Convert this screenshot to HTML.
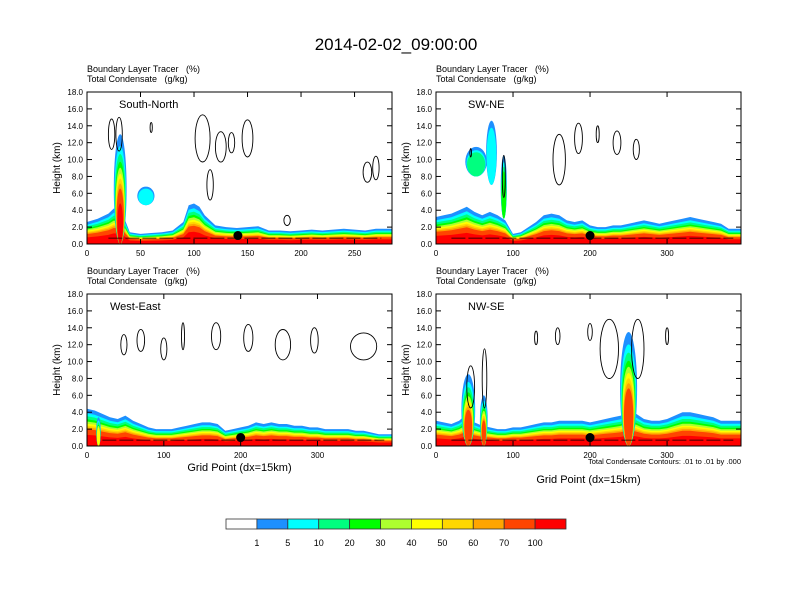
<!DOCTYPE html>
<html><head><meta charset="utf-8"><style>
body{margin:0;background:#fff;}
svg{display:block;font-family:"Liberation Sans",sans-serif;}
text{white-space:pre;}
</style></head><body>
<svg id="chart" width="792" height="612" viewBox="0 0 792 612" xmlns="http://www.w3.org/2000/svg">
<text x="396" y="50" font-size="17" text-anchor="middle">2014-02-02_09:00:00</text>
<g id="panels"></g>
<g id="colorbar"></g>
</svg>
<script>
// ---- data ----
const levelLabels = ["1","5","10","20","30","40","50","60","70","100"];
const levelColors = ["#ffffff","#1e90ff","#00ffff","#00ff7f","#00ff00","#adff2f","#ffff00","#ffd700","#ffa500","#ff4500","#ff0000"];
const yTicks = [0,2,4,6,8,10,12,14,16,18];
const panelNames = ["South-North","SW-NE","West-East","NW-SE"];
const xMaxes = [285,396,397,396];
const xTickSets = [[0,50,100,150,200,250],[0,100,200,300],[0,100,200,300],[0,100,200,300]];
// boundary layer top (km) at grid points
const blX = [
 [0,10,20,25,32,40,50,60,70,80,90,95,100,105,110,120,130,140,150,160,170,180,190,200,210,220,230,240,250,260,270,285],
 [0,10,20,30,40,50,60,70,80,90,100,110,120,130,140,150,160,170,180,190,200,210,220,230,240,250,260,270,280,290,300,310,320,330,340,350,360,370,380,396],
 [0,10,20,30,40,50,60,70,80,90,100,110,120,130,140,150,160,170,180,190,200,210,220,230,240,250,260,270,280,290,300,310,320,330,340,350,360,370,380,397],
 [0,10,20,30,40,50,60,70,80,90,100,110,120,130,140,150,160,170,180,190,200,210,220,230,240,250,260,270,280,290,300,310,320,330,340,350,360,370,380,396]
];
const blTop = [
 [2.6,3.0,3.6,4.2,4.0,1.4,1.2,1.3,1.4,1.6,2.6,4.6,4.8,4.4,3.4,2.2,2.0,1.9,2.0,2.1,1.6,1.6,1.5,1.6,1.7,1.6,1.7,1.8,1.7,1.6,1.8,1.8],
 [3.2,3.4,3.6,4.0,4.4,3.8,3.4,3.8,3.4,2.8,1.2,1.4,2.0,2.6,3.4,3.6,3.4,2.8,2.6,2.8,2.2,2.0,2.0,2.2,2.2,2.4,2.6,2.8,2.6,2.4,2.6,2.8,3.0,3.2,3.0,2.8,2.6,2.4,1.8,1.8],
 [4.4,4.2,3.8,3.4,3.2,3.6,3.0,2.6,2.2,2.0,2.0,2.0,2.2,2.4,2.6,2.8,2.8,2.6,1.8,2.0,2.2,2.4,2.8,2.6,2.8,2.6,2.6,2.4,2.4,2.2,2.2,2.0,2.0,2.0,2.0,1.8,1.8,1.6,1.4,1.4],
 [3.0,2.8,2.6,3.0,3.8,2.8,2.4,2.2,2.0,2.0,2.2,2.2,2.4,2.6,2.8,2.8,3.0,3.0,3.0,3.0,2.8,3.0,3.2,3.4,3.6,4.2,3.8,3.2,3.0,3.0,3.2,3.6,4.0,4.0,3.8,3.6,3.4,3.0,3.0,3.0]
];
// convective plumes: [center x, half width, top km, base km, number of colour levels]
const plumes = [
 [[31,6,13,0,10],[55,8,6.8,4.6,2]],
 [[88,4,10.5,3,4],[52,14,11.5,8,3],[72,7,14.6,7,2]],
 [[15,3,3.4,0,6]],
 [[42,9,8.5,0,9],[62,5,6,0,9],[250,11,13.5,0,9]]
];
// cloud contours: [x, y km, rx grid, ry km]
const contours = [
 [[23,13,3,1.8],[30,13,3,2],[60,13.8,1,0.6],[108,12.5,7,2.8],[125,11.5,5,1.8],[135,12,3,1.2],[150,12.5,5,2.2],[115,7,3,1.8],[187,2.8,3,0.6],[262,8.5,4,1.2],[270,9,3,1.4]],
 [[160,10,8,3],[185,12.5,5,1.8],[210,13,2,1.0],[235,12,5,1.4],[260,11.2,4,1.2],[88,8,2,2.5],[45,10.8,1,0.5]],
 [[48,12,4,1.2],[70,12.5,5,1.3],[100,11.5,4,1.3],[125,13,2,1.6],[168,13,6,1.6],[210,12.8,6,1.6],[255,12,10,1.8],[296,12.5,5,1.5],[360,11.8,17,1.6]],
 [[45,7,5,2.5],[63,8,3,3.5],[130,12.8,2,0.8],[158,13,3,1],[200,13.5,3,1],[225,11.5,12,3.5],[262,11.5,8,3.5],[300,13,2,1]]
];
const markerX = [141,200,200,200];

// ---- layout ----
const boxes = [[87,92],[436,92],[87,294],[436,294]];
const W=305, H=152, yMax=18;
const NS="http://www.w3.org/2000/svg";
function mk(tag, attrs, parent){const e=document.createElementNS(NS,tag);for(const k in attrs)e.setAttribute(k,attrs[k]);parent.appendChild(e);return e;}
const panelsG=document.getElementById('panels');
const fracs=[1.0,0.88,0.8,0.72,0.66,0.6,0.55,0.5,0.45,0.3];

panelNames.forEach((name,p)=>{
  const [bx,by]=boxes[p];
  const xs=v=>bx+v/xMaxes[p]*W;
  const ys=v=>by+H-v/yMax*H;
  const g=mk('g',{},panelsG);
  
  
  const clipId='clip'+p;
  const cp=mk('clipPath',{id:clipId},g); mk('rect',{x:bx,y:by,width:W,height:H},cp);
  const fill=mk('g',{'clip-path':'url(#'+clipId+')'},g);
  
  
  fracs.forEach((f,k)=>{
    let d='M'+xs(0)+','+ys(0);
    blX[p].forEach((x,i)=>{d+=' L'+xs(x).toFixed(1)+','+ys(blTop[p][i]*f).toFixed(1);});
    d+=' L'+xs(xMaxes[p])+','+ys(0)+' Z';
    const e=mk('path',{d:d,fill:levelColors[k+1]},fill);
    
    
  });
  plumes[p].forEach(pl=>{
    const [cx,hw,top,base,nl]=pl;
    fracs.slice(0,nl).forEach((f,k)=>{
      const t=base+(top-base)*(1-(1-f)*0.9);
      const w=hw*(1-(1-f)*0.8);
      const e=mk('ellipse',{cx:xs(cx).toFixed(1),cy:ys((base+t)/2).toFixed(1),rx:(w/xMaxes[p]*W).toFixed(1),ry:((t-base)/2/yMax*H).toFixed(1),fill:levelColors[k+1]},fill);
      
      
    });
  });
  contours[p].forEach(c=>{
    const e=mk('ellipse',{cx:xs(c[0]).toFixed(1),cy:ys(c[1]).toFixed(1),rx:(c[2]/xMaxes[p]*W).toFixed(1),ry:(c[3]/yMax*H).toFixed(1),fill:'none',stroke:'#000','stroke-width':0.9},fill);
    
    
  });
  const ll=mk('line',{x1:xs(20),x2:xs(xMaxes[p]-10),y1:ys(0.7),y2:ys(0.7),stroke:'#000','stroke-width':0.7,'stroke-dasharray':'14 3'},fill);
  
  
  const m=mk('circle',{cx:xs(markerX[p]),cy:ys(1.0),r:4.5,fill:'#000'},g);
  
  
  const fr=mk('rect',{x:bx,y:by,width:W,height:H,fill:'none',stroke:'#000','stroke-width':1},g);
  
  
  yTicks.forEach(t=>{
    const y=ys(t);
    mk('line',{x1:bx,x2:bx+5,y1:y,y2:y,stroke:'#000'},g);
    mk('line',{x1:bx+W,x2:bx+W-5,y1:y,y2:y,stroke:'#000'},g);
    const tx=mk('text',{x:bx-4,y:y+3,'font-size':8,'text-anchor':'end'},g);
    tx.textContent=t.toFixed(1);
    
    
  });
  xTickSets[p].forEach(t=>{
    const x=xs(t);
    mk('line',{x1:x,x2:x,y1:by+H,y2:by+H-5,stroke:'#000'},g);
    mk('line',{x1:x,x2:x,y1:by,y2:by+5,stroke:'#000'},g);
    const tx=mk('text',{x:x,y:by+H+12,'font-size':8,'text-anchor':'middle'},g);
    tx.textContent=t;
    
    
  });
  const yt=mk('text',{x:0,y:0,'font-size':10,'text-anchor':'middle',transform:'translate('+(bx-27)+','+(by+H/2)+') rotate(-90)'},g);
  yt.textContent='Height (km)';
  
  
  const s1=mk('text',{x:bx,y:by-20,'font-size':9},g);
  s1.textContent='Boundary Layer Tracer   (%)';
  
  
  const s2=mk('text',{x:bx,y:by-10,'font-size':9},g);
  s2.textContent='Total Condensate   (g/kg)';
  
  
  const lb=mk('text',{x:bx+(p===2?23:32),y:by+16,'font-size':11},g);
  lb.textContent=name;
  
  
  if(p>=2){
    const xt=mk('text',{x:bx+W/2,y:by+H+25,'font-size':11,'text-anchor':'middle'},g);
    if(p===3) xt.setAttribute('y',by+H+37);
    xt.textContent='Grid Point (dx=15km)';
    
    
  }
  if(p===3){
    const ci=mk('text',{x:bx+W,y:by+H+18,'font-size':7.5,'text-anchor':'end'},g);
    ci.textContent='Total Condensate Contours: .01 to .01 by .000';
    
    
  }
});
const cb=document.getElementById('colorbar');
const cbx=226, cbw=340, cby=519, cbh=10, n=levelColors.length, bw=cbw/n;
levelColors.forEach((c,i)=>{
  const r=mk('rect',{x:cbx+i*bw,y:cby,width:bw,height:cbh,fill:c,stroke:'#333','stroke-width':0.8},cb);
  
  
});
levelLabels.forEach((l,i)=>{
  const t=mk('text',{x:cbx+(i+1)*bw,y:cby+27,'font-size':9,'text-anchor':'middle'},cb);
  t.textContent=l;
  
  
});
</script>
</body></html>
